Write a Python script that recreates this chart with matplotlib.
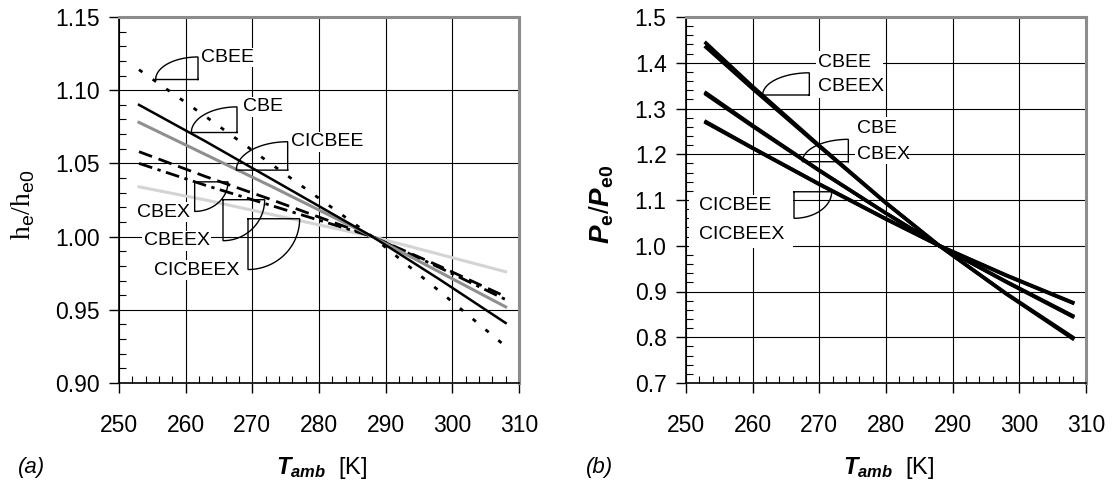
import numpy as np
import matplotlib
matplotlib.use("Agg")
import matplotlib.pyplot as plt
from matplotlib.ticker import MultipleLocator, FormatStrFormatter
from matplotlib.patches import Rectangle

plt.rcParams['font.family'] = ['Liberation Sans', 'DejaVu Sans']
plt.rcParams['mathtext.fontset'] = 'custom'
plt.rcParams['mathtext.rm'] = 'Liberation Sans'
plt.rcParams['mathtext.it'] = 'Liberation Sans:italic:bold'
plt.rcParams['mathtext.bf'] = 'Liberation Sans:bold'

# ---------------- data: panel (a) ----------------
T_a = [253, 263, 273, 288, 298, 308]
h_CBEE = [1.114, 1.082, 1.049, 1.000, 0.963, 0.925]
h_CBE = [1.090, 1.065, 1.039, 1.000, 0.971, 0.941]
h_CICBEE = [1.078, 1.056, 1.034, 1.000, 0.976, 0.952]
h_CBEX = [1.058, 1.041, 1.025, 1.000, 0.980, 0.959]
h_CBEEX = [1.050, 1.035, 1.021, 1.000, 0.979, 0.957]
h_CICBEEX = [1.034, 1.025, 1.015, 1.000, 0.988, 0.976]

# ---------------- data: panel (b) ----------------
T_b = [253, 260, 270, 280, 288, 298, 308]
P_CBEE = [1.443, 1.348, 1.219, 1.094, 1.000, 0.895, 0.797]
P_CBEEX = [1.434, 1.343, 1.217, 1.093, 1.000, 0.896, 0.800]
P_CBE = [1.334, 1.263, 1.165, 1.071, 1.000, 0.921, 0.845]
P_CBEX = [1.331, 1.261, 1.164, 1.071, 1.000, 0.922, 0.847]
P_CICBEE = [1.271, 1.214, 1.135, 1.059, 1.000, 0.935, 0.875]
P_CICBEEX = [1.269, 1.213, 1.134, 1.058, 1.000, 0.936, 0.876]

x_ticks = [250, 260, 270, 280, 290, 300, 310]
ya_ticks = [0.90, 0.95, 1.00, 1.05, 1.10, 1.15]
yb_ticks = [0.7, 0.8, 0.9, 1.0, 1.1, 1.2, 1.3, 1.4, 1.5]

W, H = 1112, 483
fig = plt.figure(figsize=(W / 100, H / 100), dpi=100)

TICK_FS = 16.5
ANN_FS = 14


def px_axes(x0, x1, ytop, ybot):
    return fig.add_axes([x0 / W, 1 - ybot / H, (x1 - x0) / W, (ybot - ytop) / H])


axA = px_axes(119, 519, 17, 383)
axB = px_axes(686, 1086, 17, 383)


def style_axes(ax, yticks, ymin, ymax, yminor, yfmt):
    ax.set_xlim(250, 310)
    ax.set_ylim(ymin, ymax)
    ax.set_xticks(x_ticks)
    ax.set_yticks(yticks)
    ax.xaxis.set_minor_locator(MultipleLocator(2))
    ax.yaxis.set_minor_locator(MultipleLocator(yminor))
    ax.yaxis.set_major_formatter(FormatStrFormatter(yfmt))
    ax.grid(True, which='major', color='black', lw=0.8)
    ax.set_axisbelow(True)
    ax.tick_params(axis='both', which='major', direction='out', length=7,
                   width=1, labelsize=TICK_FS, color='black')
    ax.tick_params(axis='x', which='major', pad=15)
    ax.tick_params(axis='y', which='major', pad=7)
    ax.tick_params(axis='both', which='minor', direction='in', length=5, width=0.8)
    for s in ('left', 'bottom'):
        ax.spines[s].set_color('black')
        ax.spines[s].set_linewidth(1.2)
    for s in ('top', 'right'):
        ax.spines[s].set_color('#8c8c8c')
        ax.spines[s].set_linewidth(2.2)


style_axes(axA, ya_ticks, 0.90, 1.15, 0.01, '%.2f')
style_axes(axB, yb_ticks, 0.7, 1.5, 0.02, '%.1f')

# ---- panel (a) lines ----
axA.plot(T_a, h_CICBEEX, color='#d4d4d4', lw=2.2, zorder=3)
axA.plot(T_a, h_CBEEX, color='black', lw=2, dashes=(5, 2, 1.2, 2), zorder=3)
axA.plot(T_a, h_CBEX, color='black', lw=2, dashes=(5, 2.5), zorder=3)
axA.plot(T_a, h_CICBEE, color='#8f8f8f', lw=2.2, zorder=3)
axA.plot(T_a, h_CBE, color='black', lw=1.8, zorder=3)
axA.plot(T_a, h_CBEE, color='black', lw=2, dashes=(1.5, 4.5), zorder=3)

# ---- panel (b) lines ----
for ys in (P_CICBEE, P_CICBEEX, P_CBE, P_CBEX, P_CBEE, P_CBEEX):
    axB.plot(T_b, ys, color='black', lw=2.6, zorder=3)


def sector(ax, cx, cy, xe, ye):
    t = np.linspace(0, np.pi / 2, 60)
    xs = cx + (xe - cx) * np.cos(t)
    ys = cy + (ye - cy) * np.sin(t)
    ax.plot(np.r_[cx, xs, cx], np.r_[cy, ys, cy], color='black', lw=1.0,
            zorder=4, solid_joinstyle='miter')


def label(ax, x, y, s, ha='left', box=True):
    kw = dict(ha=ha, va='center', fontsize=ANN_FS, zorder=6)
    if box:
        kw['bbox'] = dict(facecolor='white', edgecolor='none', pad=1.0)
    ax.text(x, y, s, **kw)


def white_box(ax, x0, x1, y0, y1):
    ax.add_patch(Rectangle((x0, y0), x1 - x0, y1 - y0, facecolor='white',
                           edgecolor='none', zorder=2.5))


# annotations panel (a)
sector(axA, 261.85, 1.1073, 255.5, 1.1227)
label(axA, 262.35, 1.1223, 'CBEE')
sector(axA, 267.7, 1.0711, 260.85, 1.0886)
label(axA, 268.6, 1.0886, 'CBE')
sector(axA, 275.3, 1.0454, 267.6, 1.0648)
label(axA, 275.8, 1.0648, 'CICBEE')
sector(axA, 261.35, 1.0374, 266.35, 1.0172)
label(axA, 260.6, 1.0167, 'CBEX', ha='right')
sector(axA, 265.6, 1.0252, 271.85, 0.9972)
label(axA, 263.6, 0.9970, 'CBEEX', ha='right')
sector(axA, 269.35, 1.0122, 277.1, 0.9775)
label(axA, 268.1, 0.9770, 'CICBEEX', ha='right')

# annotations panel (b)
white_box(axB, 269.5, 279.6, 1.322, 1.425)
sector(axB, 268.5, 1.3295, 261.5, 1.378)
label(axB, 269.85, 1.400, 'CBEE', box=False)
label(axB, 269.85, 1.347, 'CBEEX', box=False)
white_box(axB, 275.3, 283.2, 1.178, 1.282)
sector(axB, 274.35, 1.1837, 267.45, 1.2326)
label(axB, 275.6, 1.257, 'CBE', box=False)
label(axB, 275.6, 1.200, 'CBEX', box=False)
white_box(axB, 250.4, 266.0, 0.995, 1.110)
sector(axB, 266.2, 1.118, 271.85, 1.060)
label(axB, 251.95, 1.088, 'CICBEE', box=False)
label(axB, 251.95, 1.025, 'CICBEEX', box=False)

# axis labels
fig.text(23 / W, 1 - 205 / H, 'h$_\\mathrm{e}$/h$_\\mathrm{e0}$', rotation=90,
         ha='center', va='center', fontsize=20, family='Liberation Serif')
fig.text(602 / W, 1 - 204 / H, '$\\mathit{P}_{\\mathbf{e}}\\mathit{/P}_{\\mathbf{e0}}$',
         rotation=90, ha='center', va='center', fontsize=20)
fig.text(322 / W, 1 - 468 / H, '$\\mathit{T}_{\\mathit{amb}}$  [K]', ha='center',
         va='center', fontsize=17)
fig.text(889 / W, 1 - 468 / H, '$\\mathit{T}_{\\mathit{amb}}$  [K]', ha='center',
         va='center', fontsize=17)
fig.text(18 / W, 1 - 468 / H, '(a)', style='italic', ha='left', va='center', fontsize=16)
fig.text(586 / W, 1 - 468 / H, '(b)', style='italic', ha='left', va='center', fontsize=16)

fig.savefig('out.png', dpi=100)
